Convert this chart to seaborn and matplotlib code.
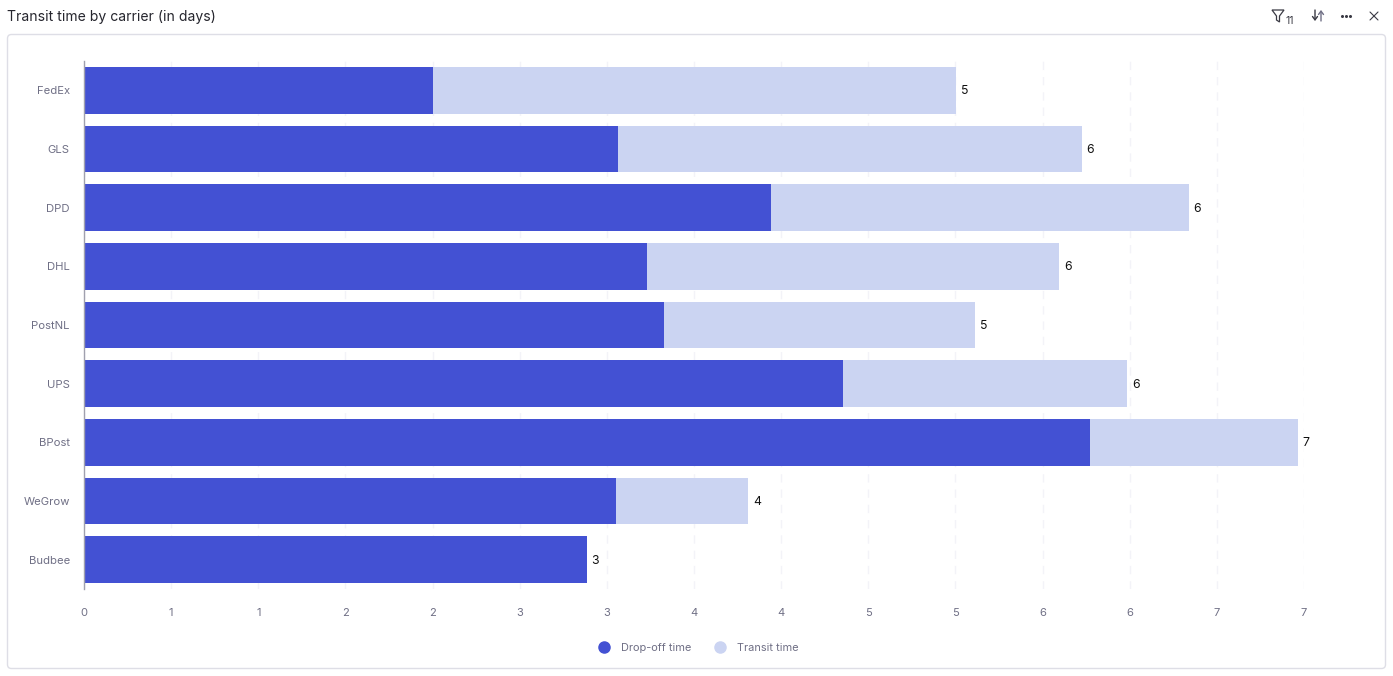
#!/usr/bin/env python3
"""Transit time by carrier, stacked horizontal bars inside a dashboard card"""

import numpy as np
import pandas as pd
import matplotlib.pyplot as plt
import seaborn as sns
from matplotlib.lines import Line2D
from matplotlib.patches import FancyBboxPatch, Polygon

carriers = ['FedEx', 'GLS', 'DPD', 'DHL', 'PostNL', 'UPS', 'BPost', 'WeGrow', 'Budbee']
dropoff_days = [2.00, 3.065, 3.94, 3.23, 3.325, 4.355, 5.77, 3.05, 2.885]
transit_days = [3.005, 2.66, 2.40, 2.365, 1.79, 1.63, 1.195, 0.76, 0.00]
total_labels = ['5', '6', '6', '6', '5', '6', '7', '4', '3']
tick_values = [0, 0.5, 1, 1.5, 2, 2.5, 3, 3.5, 4, 4.5, 5, 5.5, 6, 6.5, 7]
tick_labels = ['0', '1', '1', '2', '2', '3', '3', '4', '4', '5', '5', '6', '6', '7', '7']
series_names = ['Drop-off time', 'Transit time']

DROP_COLOR = '#4351D3'
TRANSIT_COLOR = '#CBD4F2'
MUTED = '#6F6F85'
DARK = '#26262E'
ICON = '#3A3A44'
W, H = 1393, 676

sns.set_theme(style='white')
plt.rcParams['font.family'] = ['Inter', 'DejaVu Sans']

df = pd.DataFrame({'carrier': carriers, 'dropoff': dropoff_days, 'transit': transit_days})
df['total'] = df['dropoff'] + df['transit']

fig = plt.figure(figsize=(W / 100, H / 100), dpi=100, facecolor='white')

# Pixel-coordinate layer for the card, the header and its icons
bg = fig.add_axes([0, 0, 1, 1], zorder=0)
bg.set_xlim(0, W)
bg.set_ylim(H, 0)
bg.axis('off')
bg.add_patch(FancyBboxPatch((7.5, 34.5), 1378, 634, boxstyle='round,pad=0,rounding_size=4',
                            fc='white', ec='#DEDEE6', lw=1))
bg.text(7, 17, 'Transit time by carrier (in days)', fontsize=10.1, color=DARK, va='center', ha='left')

# filter icon + count
bg.add_patch(Polygon([(1272, 10), (1284, 10), (1279.5, 16), (1279.5, 22), (1276.5, 20), (1276.5, 16)],
                     closed=True, fc='none', ec=ICON, lw=0.9))
bg.text(1286, 20.5, '11', fontsize=7.5, color=ICON, va='center', ha='left')
# sort icon
for x, y0, y1, col in [(1315, 10, 21, ICON), (1321, 21, 10, MUTED)]:
    bg.annotate('', xy=(x, y1), xytext=(x, y0),
                arrowprops=dict(arrowstyle='->,head_width=0.15,head_length=0.2', color=col, lw=1,
                                shrinkA=0, shrinkB=0))
# more menu
bg.plot([1342, 1346, 1350], [16, 16, 16], ls='none', marker='o', ms=1.2, color=ICON)
# close icon
bg.plot([1370, 1378], [12, 20], color=ICON, lw=0.8)
bg.plot([1370, 1378], [20, 12], color=ICON, lw=0.8)

# Plot area: 84..1304 px wide, 61..589 px tall
ax = fig.add_axes([84 / W, 1 - 589 / H, (1304 - 84) / W, (589 - 61) / H], zorder=1)
ax.patch.set_alpha(0)

sns.barplot(data=df, y='carrier', x='total', color=TRANSIT_COLOR, saturation=1, width=0.8,
            orient='h', ax=ax, zorder=3, linewidth=0)
totals = ax.containers[0]
sns.barplot(data=df, y='carrier', x='dropoff', color=DROP_COLOR, saturation=1, width=0.8,
            orient='h', ax=ax, zorder=3, linewidth=0)

value_texts = ax.bar_label(totals, labels=total_labels, padding=3.4, fontsize=8.8, color='#111111')
for t in value_texts:
    t.xyann = (t.xyann[0], -0.8)

ax.set_xlim(0, 7)
ax.set_ylim(8.5, -0.5)
ax.set_xticks(tick_values)
ax.set_xticklabels(tick_labels)
ax.set_xlabel('')
ax.set_ylabel('')
ax.tick_params(axis='x', length=0, pad=13.5, labelsize=8, labelcolor=MUTED)
ax.tick_params(axis='y', length=0, pad=10.2, labelsize=8.1, labelcolor=MUTED)
ax.grid(axis='x', color='#F3F3F8', lw=1, ls=(0, (6, 5)), zorder=0)
ax.grid(axis='y', visible=False)
ax.set_axisbelow(True)
for side in ['top', 'right', 'bottom']:
    ax.spines[side].set_visible(False)
ax.spines['left'].set_color('#A0A0AE')
ax.spines['left'].set_linewidth(1)
ax.spines['left'].set_zorder(4)

handles = [Line2D([], [], ls='none', marker='o', ms=8, color=c) for c in [DROP_COLOR, TRANSIT_COLOR]]
leg = fig.legend(handles, series_names, loc='center', bbox_to_anchor=(696 / W, 1 - 648 / H),
                 ncol=2, frameon=False, fontsize=7.9, handletextpad=0.5, columnspacing=1.65,
                 labelcolor=MUTED)

fig.savefig('out.png', dpi=100)
